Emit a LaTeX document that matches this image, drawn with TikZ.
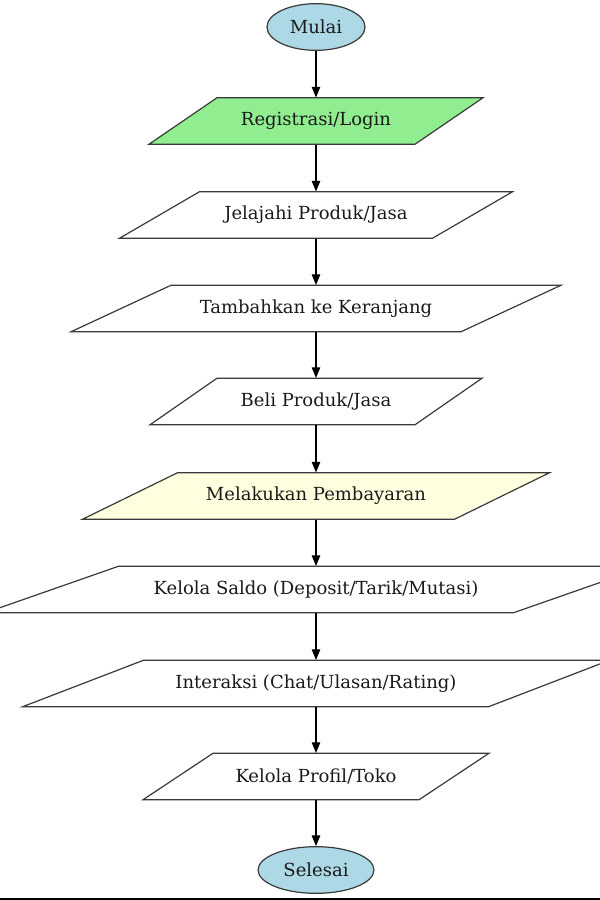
\documentclass[tikz,border=0pt]{standalone}
\usepackage{fontspec}
\setmainfont{DejaVu Serif}
\usetikzlibrary{shapes.geometric,arrows.meta}
\definecolor{strokec}{HTML}{3A3A3A}
\definecolor{lblue}{HTML}{ADD8E6}
\definecolor{lgreen}{HTML}{90EE90}
\definecolor{lyellow}{HTML}{FFFFE0}
\definecolor{txtc}{HTML}{1A1A1A}
\tikzset{
  shapeline/.style={draw=strokec, line width=0.9pt, line join=miter},
  term/.style={ellipse, shapeline, fill=lblue, inner sep=0pt, text=txtc, font=\fontsize{13.5pt}{15pt}\selectfont},
  plabel/.style={inner sep=0pt, minimum height=34.9pt, text=txtc, font=\fontsize{13.5pt}{15pt}\selectfont},
  flow/.style={draw=black, line width=0.85pt, -{Triangle[length=8pt, width=6.4pt]}}
}
% name, cx, cy, edge width, slant, fill, text
\newcommand{\pgram}[7]{%
  \path[shapeline, fill=#6] ({#2-#4/2+#5/2},{#3-23.25}) -- ({#2+#4/2+#5/2},{#3-23.25})
     -- ({#2+#4/2-#5/2},{#3+23.25}) -- ({#2-#4/2-#5/2},{#3+23.25}) -- cycle;
  \node[plabel] (#1) at (#2,#3) {#7};
}
\begin{document}
\begin{tikzpicture}[x=0.75pt, y=-0.75pt]
\useasboundingbox (0,0) rectangle (600,900);
\clip (0,0) rectangle (600,900);
\fill[white] (0,0) rectangle (600,900);
\node[term, minimum width=73.5pt, minimum height=35pt] (mulai) at (316,27) {Mulai};
\pgram{reg}{316}{121}{266}{68}{lgreen}{Registrasi/Login}
\pgram{jel}{316}{215}{313}{80}{white}{Jelajahi Produk/Jasa}
\pgram{tam}{316}{308.5}{390}{100}{white}{Tambahkan ke Keranjang}
\pgram{beli}{316}{401.5}{265}{67}{white}{Beli Produk/Jasa}
\pgram{bayar}{316}{496}{372}{95}{lyellow}{Melakukan Pembayaran}
\pgram{saldo}{316}{589.5}{528}{133}{white}{Kelola Saldo (Deposit/Tarik/Mutasi)}
\pgram{inter}{316}{683.5}{466}{121}{white}{Interaksi (Chat/Ulasan/Rating)}
\pgram{profil}{316}{776.5}{276}{70}{white}{Kelola Profil/Toko}
\node[term, minimum width=87pt, minimum height=35pt] (selesai) at (316,870) {Selesai};
\draw[flow] (mulai.south) -- (reg.north);
\draw[flow] (reg.south) -- (jel.north);
\draw[flow] (jel.south) -- (tam.north);
\draw[flow] (tam.south) -- (beli.north);
\draw[flow] (beli.south) -- (bayar.north);
\draw[flow] (bayar.south) -- (saldo.north);
\draw[flow] (saldo.south) -- (inter.north);
\draw[flow] (inter.south) -- (profil.north);
\draw[flow] (profil.south) -- (selesai.north);
\draw[black, line width=1.5pt] (0,898.8) -- (600,898.8);
\end{tikzpicture}
\end{document}
